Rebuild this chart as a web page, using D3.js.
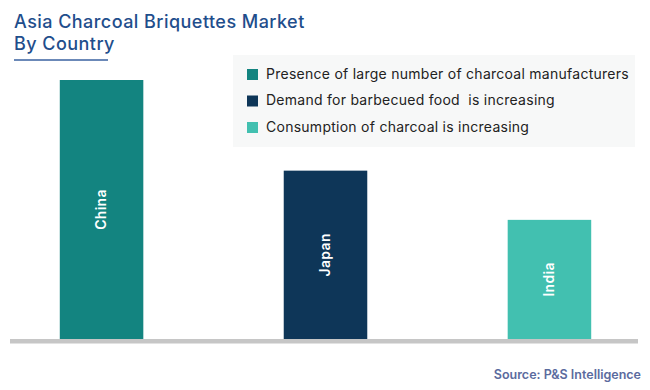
<!DOCTYPE html>
<html>
<head>
<meta charset="utf-8">
<script src="https://cdn.jsdelivr.net/npm/d3@7"></script>
<style>
  html, body { margin: 0; padding: 0; background: #ffffff; }
  svg { display: block; }
</style>
</head>
<body>
<div id="chart"></div>
<script>
const categories = ["China", "Japan", "India"];
const values = [100, 65, 46];
const legendLabels = [
  "Presence of large number of charcoal manufacturers",
  "Demand for barbecued food  is increasing",
  "Consumption of charcoal is increasing"
];
const colors = ["#138480", "#0e3658", "#42c0b0"];
const titleLines = ["Asia Charcoal Briquettes Market", "By Country"];
const sourceText = "Source: P&S Intelligence";

const W = 650, H = 390;
const svg = d3.select("#chart").append("svg")
  .attr("width", W).attr("height", H);

const FONT = "Inter, 'Open Sans', sans-serif";

// Title
svg.selectAll("text.title").data(titleLines).join("text")
  .attr("class", "title")
  .attr("x", 14)
  .attr("y", (d, i) => 28 + i * 22)
  .attr("font-family", FONT)
  .attr("font-size", 18)
  .attr("font-weight", 500)
  .attr("letter-spacing", 0.45)
  .attr("fill", "#1f4e8c")
  .text(d => d);

svg.append("line")
  .attr("x1", 14).attr("x2", 108)
  .attr("y1", 60).attr("y2", 60)
  .attr("stroke", "#3a62a0").attr("stroke-width", 1.5);

// Scales
const x = d3.scaleBand().domain(categories).range([15, 636])
  .paddingInner(0.627).paddingOuter(0.2);
const y = d3.scaleLinear().domain([0, 100]).range([339, 80]);
const color = d3.scaleOrdinal().domain(categories).range(colors);

// Bars
svg.selectAll("rect.bar").data(categories).join("rect")
  .attr("class", "bar")
  .attr("x", d => x(d))
  .attr("width", x.bandwidth())
  .attr("y", (d, i) => y(values[i]))
  .attr("height", (d, i) => y(0) - y(values[i]))
  .attr("fill", d => color(d));

// Bar labels
svg.selectAll("text.blabel").data(categories).join("text")
  .attr("class", "blabel")
  .attr("transform", (d, i) => {
    const cx = x(d) + x.bandwidth() / 2;
    const cy = (y(values[i]) + y(0)) / 2;
    return `translate(${cx},${cy}) rotate(-90)`;
  })
  .attr("text-anchor", "middle")
  .attr("dy", "0.35em")
  .attr("font-family", FONT)
  .attr("font-size", 14)
  .attr("font-weight", 600)
  .attr("letter-spacing", 0.3)
  .attr("fill", "#ffffff")
  .text(d => d);

// Axis baseline
const xAxis = d3.axisBottom(x).tickSize(0).tickFormat("");
const axisG = svg.append("g").attr("transform", `translate(0,${y(0) + 2.3})`).call(xAxis);
axisG.select(".domain").remove();
axisG.append("line")
  .attr("x1", 10).attr("x2", 638)
  .attr("y1", 0).attr("y2", 0)
  .attr("stroke", "#c6c6c6").attr("stroke-width", 4.6);

// Legend
const lg = svg.append("g");
lg.append("rect")
  .attr("x", 233).attr("y", 55).attr("width", 402).attr("height", 92)
  .attr("fill", "#f7f8f8");
const rows = lg.selectAll("g.row").data(legendLabels).join("g")
  .attr("class", "row")
  .attr("transform", (d, i) => `translate(247,${69 + i * 26.5})`);
rows.append("rect")
  .attr("width", 11).attr("height", 11)
  .attr("fill", (d, i) => colors[i]);
rows.append("text")
  .attr("x", 19).attr("y", 9.5)
  .attr("font-family", FONT)
  .attr("font-size", 14)
  .attr("letter-spacing", 0.26)
  .attr("fill", "#222222")
  .attr("xml:space", "preserve")
  .style("white-space", "pre")
  .text(d => d);

// Source
svg.append("text")
  .attr("x", 641).attr("y", 379)
  .attr("text-anchor", "end")
  .attr("font-family", FONT)
  .attr("font-size", 12.5)
  .attr("font-weight", 600)
  .attr("fill", "#5b6b9e")
  .text(sourceText);
</script>
</body>
</html>
